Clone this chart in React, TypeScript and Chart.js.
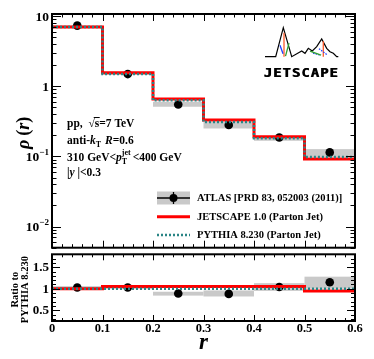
import React, { useEffect, useRef } from 'react';
import { Chart, registerables } from 'chart.js';

Chart.register(...registerables);

// ---------------- data ----------------
const binEdges = [0, 0.1, 0.2, 0.3, 0.4, 0.5, 0.6];
const binCenters = [0.05, 0.15, 0.25, 0.35, 0.45, 0.55];

const atlasRho = [7.3, 1.49, 0.55, 0.28, 0.186, 0.114];
const atlasRhoSysLow = [6.95, 1.45, 0.51, 0.25, 0.167, 0.098];
const atlasRhoSysHigh = [7.35, 1.53, 0.6, 0.31, 0.195, 0.127];
const jetscapeRho = [7.0, 1.56, 0.66, 0.33, 0.19, 0.092];
const pythiaRho = [7.0, 1.5, 0.63, 0.31, 0.182, 0.098];

const atlasRatio = [1.03, 1.03, 0.89, 0.88, 1.04, 1.15];
const atlasRatioSysLow = [0.99, 0.99, 0.84, 0.82, 0.95, 1.0];
const atlasRatioSysHigh = [1.06, 1.06, 0.93, 0.96, 1.13, 1.28];
const atlasRatioStat = [0.01, 0.01, 0.01, 0.01, 0.04, 0.03];
const jetscapeRatio = [1.0, 1.05, 1.05, 1.05, 1.05, 0.95];
const pythiaRatio = [1.0, 1.0, 1.0, 1.0, 1.0, 1.0];

const xTickValues = [0, 0.1, 0.2, 0.3, 0.4, 0.5, 0.6];
const xTickLabels = ['0', '0.1', '0.2', '0.3', '0.4', '0.5', '0.6'];
const rhoTickValues = [10, 1, 0.1, 0.01];
const rhoTickBase = ['10', '1', '10', '10'];
const rhoTickExp = ['', '', '\u22121', '\u22122'];
const ratioTickValues = [1.5, 1, 0.5];
const ratioTickLabels = ['1.5', '1', '0.5'];

const legendLabels = [
  'ATLAS [PRD 83, 052003 (2011)]',
  'JETSCAPE 1.0 (Parton Jet)',
  'PYTHIA 8.230 (Parton Jet)',
];

const RED = '#ff0000';
const TEAL = '#2a8585';
const GRAY = '#c9c9c9';
const SERIF = '"Liberation Serif", "Times New Roman", serif';

// ---------------- helpers ----------------
function fnt(size: number, italic = false) {
  return `${italic ? 'italic ' : ''}bold ${size}px ${SERIF}`;
}

type Seg = { t?: string; it?: boolean; size?: number; sup?: string; sub?: string; over?: boolean; gap?: number; supIt?: boolean };

function rich(ctx: CanvasRenderingContext2D, x: number, y: number, segs: Seg[], base: number, dry = false) {
  let cx = x;
  for (const s of segs) {
    const size = s.size ?? base;
    if (s.t) {
      ctx.font = fnt(size, s.it);
      const w = ctx.measureText(s.t).width;
      if (!dry) {
        ctx.fillText(s.t, cx, y);
        if (s.over) {
          ctx.save();
          ctx.lineWidth = 1;
          ctx.beginPath();
          ctx.moveTo(cx - 1, y - size * 0.78);
          ctx.lineTo(cx + w + 0.5, y - size * 0.78);
          ctx.stroke();
          ctx.restore();
        }
      }
      cx += w;
    }
    if (s.sup || s.sub) {
      const ss = Math.round(base * 0.68);
      ctx.font = fnt(ss, s.supIt);
      let w1 = 0;
      let w2 = 0;
      if (s.sup) {
        w1 = ctx.measureText(s.sup).width;
        if (!dry) ctx.fillText(s.sup, cx, y - base * 0.48);
      }
      ctx.font = fnt(ss);
      if (s.sub) {
        w2 = ctx.measureText(s.sub).width;
        if (!dry) ctx.fillText(s.sub, cx, y + base * 0.3);
      }
      cx += Math.max(w1, w2);
    }
    cx += s.gap ?? 0;
  }
  return cx - x;
}

function seg(ctx: CanvasRenderingContext2D, x1: number, y1: number, x2: number, y2: number) {
  ctx.beginPath();
  ctx.moveTo(x1, y1);
  ctx.lineTo(x2, y2);
  ctx.stroke();
}

function stepData(values: number[]) {
  const pts = values.map((v, i) => ({ x: binEdges[i], y: v }));
  pts.push({ x: binEdges[binEdges.length - 1], y: values[values.length - 1] });
  return pts;
}

function drawBands(chart: any, lows: number[], highs: number[]) {
  const ctx: CanvasRenderingContext2D = chart.ctx;
  const xs = chart.scales.x;
  const ys = chart.scales.y;
  ctx.save();
  ctx.fillStyle = GRAY;
  for (let i = 0; i < lows.length; i++) {
    const x1 = xs.getPixelForValue(binEdges[i]);
    const x2 = xs.getPixelForValue(binEdges[i + 1]);
    const y1 = ys.getPixelForValue(highs[i]);
    const y2 = ys.getPixelForValue(lows[i]);
    ctx.fillRect(x1, y1, x2 - x1, y2 - y1);
  }
  ctx.restore();
}

function drawXTicks(chart: any, maj: number, min: number) {
  const ctx: CanvasRenderingContext2D = chart.ctx;
  const xs = chart.scales.x;
  const { top, bottom } = chart.chartArea;
  ctx.save();
  ctx.strokeStyle = '#000';
  ctx.lineWidth = 1;
  for (let i = 0; i <= 30; i++) {
    const v = i * 0.02;
    const px = Math.round(xs.getPixelForValue(v)) + 0.5;
    const L = i % 5 === 0 ? maj : min;
    seg(ctx, px, top, px, top + L);
    seg(ctx, px, bottom, px, bottom - L);
  }
  ctx.restore();
}

function drawYTick(chart: any, v: number, L: number) {
  const ctx: CanvasRenderingContext2D = chart.ctx;
  const { left, right } = chart.chartArea;
  const py = Math.round(chart.scales.y.getPixelForValue(v)) + 0.5;
  seg(ctx, left, py, left + L, py);
  seg(ctx, right, py, right - L, py);
}

function drawFrame(chart: any) {
  const ctx: CanvasRenderingContext2D = chart.ctx;
  const { left, right, top, bottom } = chart.chartArea;
  ctx.save();
  ctx.strokeStyle = '#000';
  ctx.lineWidth = 2;
  ctx.strokeRect(left, top, right - left, bottom - top);
  ctx.restore();
}

function drawLogo(ctx: CanvasRenderingContext2D, ox: number, oy: number) {
  // ox, oy: left end of baseline
  ctx.save();
  ctx.strokeStyle = '#000';
  ctx.lineWidth = 1.2;
  const pts = [
    [0, 0], [10.7, 0], [18.3, -29], [26.7, 0], [36.7, -5.7], [40, -3.4], [43.3, -8.4],
    [47.3, -5.7], [51.7, -10], [56.7, -17.7], [61.7, -8.4], [65, -5], [68.3, -3.4], [71.7, 0], [73.3, 0],
  ];
  ctx.beginPath();
  pts.forEach(([px, py], i) => (i ? ctx.lineTo(ox + px, oy + py) : ctx.moveTo(ox + px, oy + py)));
  ctx.stroke();
  ctx.lineWidth = 1.3;
  ctx.strokeStyle = '#ff5a2a';
  seg(ctx, ox + 19, oy - 24, ox + 19, oy);
  seg(ctx, ox + 58.3, oy - 15.5, ox + 58.3, oy);
  ctx.strokeStyle = '#2040ff';
  seg(ctx, ox + 15, oy - 11.5, ox + 18, oy - 3);
  ctx.setLineDash([1.5, 1.2]);
  seg(ctx, ox + 48, oy - 3.5, ox + 56, oy - 1.5);
  seg(ctx, ox + 54, oy - 8, ox + 62, oy - 2);
  ctx.setLineDash([]);
  ctx.strokeStyle = '#30a030';
  seg(ctx, ox + 20.5, oy - 0.5, ox + 24, oy - 13.5);
  seg(ctx, ox + 45, oy - 5.5, ox + 56, oy - 1.5);
  ctx.restore();

  ctx.save();
  ctx.fillStyle = '#000';
  ctx.font = `bold 12px "DejaVu Sans Mono", monospace`;
  ctx.textAlign = 'center';
  ctx.textBaseline = 'middle';
  const word = 'JETSCAPE';
  for (let i = 0; i < word.length; i++) {
    const cx = ox - 2 + 4.7 + i * 9.4;
    ctx.save();
    ctx.translate(cx, oy + 17.5);
    ctx.scale(1.15, 0.95);
    ctx.fillText(word[i], 0, 0);
    ctx.fillText(word[i], 0.6, 0);
    ctx.restore();
  }
  ctx.restore();
}

// ---------------- plugins ----------------
const topPlugin = {
  id: 'topDecor',
  beforeDatasetsDraw(chart: any) {
    drawBands(chart, atlasRhoSysLow, atlasRhoSysHigh);
  },
  afterDraw(chart: any) {
    const ctx: CanvasRenderingContext2D = chart.ctx;
    const { left, right, top, bottom } = chart.chartArea;
    const ys = chart.scales.y;
    drawFrame(chart);
    drawXTicks(chart, 7, 3.5);
    ctx.save();
    ctx.strokeStyle = '#000';
    ctx.lineWidth = 1;
    for (let d = -3; d <= 1; d++) {
      for (let m = 1; m <= 9; m++) {
        const v = m * Math.pow(10, d);
        if (v < ys.min || v > ys.max) continue;
        drawYTick(chart, v, m === 1 ? 9 : 4.5);
      }
    }
    ctx.restore();

    // y tick labels
    ctx.save();
    ctx.fillStyle = '#000';
    ctx.textBaseline = 'alphabetic';
    rhoTickValues.forEach((v, i) => {
      const py = ys.getPixelForValue(v);
      ctx.font = fnt(9);
      const we = rhoTickExp[i] ? ctx.measureText(rhoTickExp[i]).width : 0;
      ctx.font = fnt(13.5);
      const wb = ctx.measureText(rhoTickBase[i]).width;
      const xEnd = left - 3;
      ctx.fillText(rhoTickBase[i], xEnd - we - wb, py + 4.5);
      if (we) {
        ctx.font = fnt(9);
        ctx.fillText(rhoTickExp[i], xEnd - we, py - 1.5);
      }
    });
    ctx.restore();

    // y axis title
    ctx.save();
    ctx.fillStyle = '#000';
    ctx.translate(29, (top + bottom) / 2 + 2);
    ctx.rotate(-Math.PI / 2);
    const titleSegs: Seg[] = [{ t: '\u03c1', it: true, gap: 4 }, { t: '(' }, { t: 'r', it: true }, { t: ')' }];
    const tw = rich(ctx, 0, 0, titleSegs, 18, true);
    rich(ctx, -tw / 2, 0, titleSegs, 18);
    ctx.restore();

    // annotation text
    ctx.save();
    ctx.fillStyle = '#000';
    ctx.strokeStyle = '#000';
    const ax = left + 15;
    rich(ctx, ax, 126.5, [{ t: 'pp,  ' }, { t: '\u221a' }, { t: 's', over: true }, { t: '=7 TeV' }], 11.5);
    rich(ctx, ax, 143.5, [{ t: 'anti-' }, { t: 'k', it: true, sub: 'T', gap: 4 }, { t: 'R', it: true }, { t: '=0.6' }], 11.5);
    rich(ctx, ax, 160.5, [{ t: '310 GeV<' }, { t: 'p', it: true, sup: 'jet', sub: 'T', gap: 2 }, { t: '<400 GeV' }], 11.5);
    rich(ctx, ax, 175.5, [{ t: '|' }, { t: 'y', it: true }, { t: ' |<0.3' }], 11.5);
    ctx.restore();

    // legend
    ctx.save();
    const lx1 = 157;
    const lx2 = 190;
    const rows = [198, 216.7, 235];
    ctx.fillStyle = GRAY;
    ctx.fillRect(lx1, rows[0] - 6.5, lx2 - lx1, 13);
    ctx.strokeStyle = '#000';
    ctx.lineWidth = 1.3;
    seg(ctx, lx1, rows[0], lx2, rows[0]);
    seg(ctx, (lx1 + lx2) / 2, rows[0] - 6, (lx1 + lx2) / 2, rows[0] + 6);
    ctx.fillStyle = '#000';
    ctx.beginPath();
    ctx.arc((lx1 + lx2) / 2, rows[0], 4, 0, Math.PI * 2);
    ctx.fill();
    ctx.strokeStyle = RED;
    ctx.lineWidth = 3;
    seg(ctx, lx1, rows[1], lx2, rows[1]);
    ctx.strokeStyle = TEAL;
    ctx.lineWidth = 2.5;
    ctx.setLineDash([2, 2]);
    seg(ctx, lx1, rows[2], lx2, rows[2]);
    ctx.setLineDash([]);
    ctx.fillStyle = '#000';
    ctx.font = fnt(10.5);
    ctx.textBaseline = 'middle';
    legendLabels.forEach((l, i) => ctx.fillText(l, 197, rows[i] + 0.5));
    ctx.restore();

    drawLogo(ctx, right - 90, top + 42.7);
  },
};

const bottomPlugin = {
  id: 'bottomDecor',
  beforeDatasetsDraw(chart: any) {
    drawBands(chart, atlasRatioSysLow, atlasRatioSysHigh);
    const ctx: CanvasRenderingContext2D = chart.ctx;
    const xs = chart.scales.x;
    const ys = chart.scales.y;
    ctx.save();
    ctx.strokeStyle = '#000';
    ctx.lineWidth = 1.3;
    binCenters.forEach((c, i) => {
      const px = xs.getPixelForValue(c);
      seg(ctx, px, ys.getPixelForValue(atlasRatio[i] + atlasRatioStat[i]), px, ys.getPixelForValue(atlasRatio[i] - atlasRatioStat[i]));
    });
    ctx.restore();
  },
  afterDraw(chart: any) {
    const ctx: CanvasRenderingContext2D = chart.ctx;
    const { left, top, bottom } = chart.chartArea;
    const xs = chart.scales.x;
    const ys = chart.scales.y;
    drawFrame(chart);
    drawXTicks(chart, 6, 3);
    ctx.save();
    ctx.strokeStyle = '#000';
    ctx.lineWidth = 1;
    for (let i = 3; i <= 17; i++) {
      const v = i / 10;
      drawYTick(chart, v, i % 5 === 0 ? 8 : 4);
    }
    ctx.restore();

    ctx.save();
    ctx.fillStyle = '#000';
    ctx.font = fnt(13);
    ctx.textAlign = 'right';
    ctx.textBaseline = 'middle';
    ratioTickValues.forEach((v, i) => ctx.fillText(ratioTickLabels[i], left - 3, ys.getPixelForValue(v) + 0.5));
    ctx.textAlign = 'center';
    ctx.font = fnt(12.5);
    xTickValues.forEach((v, i) => ctx.fillText(xTickLabels[i], xs.getPixelForValue(v), bottom + 8));
    ctx.font = fnt(23, true);
    ctx.fillText('r', xs.getPixelForValue(0.3), bottom + 22);
    ctx.restore();

    ctx.save();
    ctx.fillStyle = '#000';
    ctx.translate(0, (top + bottom) / 2 + 2);
    ctx.rotate(-Math.PI / 2);
    ctx.textAlign = 'center';
    ctx.textBaseline = 'middle';
    ctx.font = fnt(10.5);
    ctx.fillText('Ratio to', 0, 15);
    ctx.fillText('PYTHIA 8.230', 0, 25.5);
    ctx.restore();
  },
};

// ---------------- component ----------------
function makeDatasets(points: number[], jetscape: number[], pythia: number[]) {
  return [
    {
      label: 'PYTHIA 8.230 (Parton Jet)',
      data: stepData(pythia),
      stepped: 'before',
      borderColor: TEAL,
      borderWidth: 2.5,
      borderDash: [2, 2],
      pointRadius: 0,
      fill: false,
      order: 0,
    },
    {
      label: 'JETSCAPE 1.0 (Parton Jet)',
      data: stepData(jetscape),
      stepped: 'before',
      borderColor: RED,
      borderWidth: 3,
      pointRadius: 0,
      fill: false,
      order: 1,
    },
    {
      label: 'ATLAS',
      data: binCenters.map((x, i) => ({ x, y: points[i] })),
      showLine: false,
      pointRadius: 4.3,
      pointBackgroundColor: '#000',
      pointBorderWidth: 0,
      order: 2,
    },
  ];
}

export default function App() {
  const topRef = useRef<HTMLCanvasElement>(null);
  const botRef = useRef<HTMLCanvasElement>(null);

  useEffect(() => {
    const common = {
      animation: false as const,
      responsive: false,
      maintainAspectRatio: false,
      events: [] as any[],
      plugins: { legend: { display: false }, tooltip: { enabled: false } },
    };
    const top = new Chart(topRef.current!, {
      type: 'line',
      data: { datasets: makeDatasets(atlasRho, jetscapeRho, pythiaRho) as any },
      options: {
        ...common,
        layout: { padding: { left: 52, right: 19, top: 14, bottom: 1 } },
        scales: {
          x: { type: 'linear', min: 0, max: 0.6, display: false },
          y: { type: 'logarithmic', min: 0.005, max: 10.7, display: false },
        },
      } as any,
      plugins: [topPlugin],
    });
    const bot = new Chart(botRef.current!, {
      type: 'line',
      data: { datasets: makeDatasets(atlasRatio, jetscapeRatio, pythiaRatio) as any },
      options: {
        ...common,
        layout: { padding: { left: 52, right: 19, top: 1, bottom: 38 } },
        scales: {
          x: { type: 'linear', min: 0, max: 0.6, display: false },
          y: { type: 'linear', min: 0.25, max: 1.8, display: false },
        },
      } as any,
      plugins: [bottomPlugin],
    });
    return () => {
      top.destroy();
      bot.destroy();
    };
  }, []);

  return (
    <div style={{ position: 'fixed', left: 0, top: 0, width: 374, height: 359, background: '#fff' }}>
      <canvas ref={topRef} width={374} height={252} style={{ position: 'absolute', left: 0, top: 0, width: 374, height: 252 }} />
      <canvas ref={botRef} width={374} height={109} style={{ position: 'absolute', left: 0, top: 250, width: 374, height: 109 }} />
    </div>
  );
}
